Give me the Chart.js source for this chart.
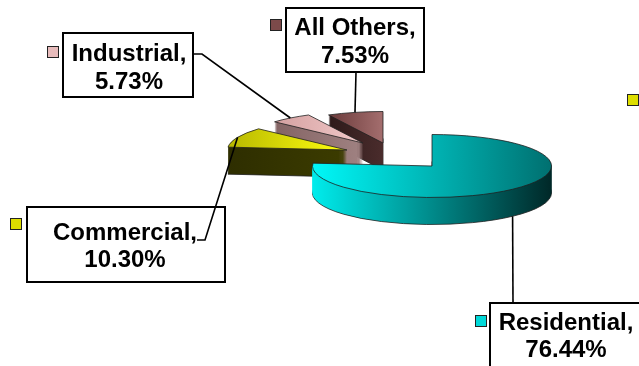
<!DOCTYPE html>
<html>
<head>
<meta charset="utf-8">
<script src="https://cdn.jsdelivr.net/npm/chart.js@4.4.0/dist/chart.umd.min.js"></script>
<style>
  html, body { margin: 0; padding: 0; background: #ffffff; }
  #wrap { width: 639px; height: 366px; position: relative; overflow: hidden; }
</style>
</head>
<body>
<div id="wrap"><canvas id="pie-chart-canvas"></canvas></div>
<script>
// values
const categories = ['Residential', 'Commercial', 'Industrial', 'All Others']
const shares = [76.44, 10.30, 5.73, 7.53]

// colours: legend key, top face gradient, side face gradient
const keyColors = ['#00d8d8', '#dede00', '#e8bcbc', '#7c4a4a']
const topColors = [['#00f8f8', '#007070'], ['#b8b800', '#ffff10'], ['#d4a0a0', '#f2caca'], ['#6a3a3a', '#a46e6e']]
const sideColors = [['#00ecec', '#002828'], ['#2e2e00', '#3c3c00'], ['#846464', '#a08282'], ['#2e1a1a', '#4a2c2c']]

// fake 3d: flattened ellipse, depth and explode shift (screen px) per slice
const pie = { cx: 432, cy: 166, rx: 119.5, ry: 31.5, depth: 27, edge: '#202020', edgeWidth: 0.8 }
const explode = [[0, 0], [-85, -16], [-69, -23], [-49, -23]]
const drawOrder = [3, 2, 1, 0] // back to front

// callout layout
const calloutBoxes = [
  { x: 490, y: 303, w: 154, h: 64, tx: 566, base: [330, 357] },
  { x: 27, y: 207, w: 198, h: 75, tx: 125, base: [240, 267] },
  { x: 63, y: 33, w: 130, h: 64, tx: 129, base: [61, 89] },
  { x: 286, y: 8, w: 138, h: 64, tx: 355, base: [35, 63] }
]
const keySquares = [[475, 315], [10, 218], [47, 46], [270, 19]]
const leaderEnds = [[[513, 303]], [[205, 240], [197, 240]], [[202, 54], [193, 54]], [[356, 72]]]
const strayKey = { x: 627, y: 94, color: keyColors[1] }

function flatStroke () {
  // keep line width even under the squashed transform
  this.save()
  this.setTransform(1, 0, 0, 1, 0, 0)
  CanvasRenderingContext2D.prototype.stroke.call(this)
  this.restore()
}

function sliceGradient (ctx, arc, colors) {
  const r = arc.outerRadius
  let lo = 0
  let hi = 0
  for (let s = 0; s <= 32; s++) {
    const a = arc.startAngle + (arc.endAngle - arc.startAngle) * s / 32
    lo = Math.min(lo, Math.cos(a))
    hi = Math.max(hi, Math.cos(a))
  }
  const g = ctx.createLinearGradient(arc.x + lo * r, 0, arc.x + hi * r, 0)
  g.addColorStop(0, colors[0])
  g.addColorStop(1, colors[1])
  return g
}

function paintArc (ctx, arc, i, lift, fill, outlined) {
  const r = arc.outerRadius
  const [dx, dy] = explode[i]
  ctx.save()
  ctx.translate(pie.cx + dx, pie.cy + dy + lift)
  ctx.scale(pie.rx / r, pie.ry / r)
  ctx.translate(-arc.x, -arc.y)
  const saved = arc.options
  arc.options = Object.assign({}, saved, {
    backgroundColor: fill,
    borderColor: pie.edge,
    borderWidth: outlined ? pie.edgeWidth : 0,
    offset: 0,
    spacing: 0
  })
  ctx.stroke = flatStroke
  arc.draw(ctx)
  delete ctx.stroke
  arc.options = saved
  ctx.restore()
}

function anchorOf (arc, i) {
  const a = (arc.startAngle + arc.endAngle) / 2
  const [dx, dy] = explode[i]
  const front = Math.sin(a) > 0 ? pie.depth : 0
  return [pie.cx + dx + Math.cos(a) * pie.rx, pie.cy + dy + Math.sin(a) * pie.ry + front]
}

const pie3d = {
  id: 'pie3d',
  beforeDatasetsDraw (chart) {
    const ctx = chart.ctx
    const arcs = chart.getDatasetMeta(0).data
    drawOrder.forEach(i => {
      const arc = arcs[i]
      const side = sliceGradient(ctx, arc, sideColors[i])
      const top = sliceGradient(ctx, arc, topColors[i])
      for (let k = pie.depth; k >= 1; k--) {
        paintArc(ctx, arc, i, k, side, k === pie.depth)
      }
      paintArc(ctx, arc, i, 0, top, true)
    })
    return false
  }
}

const callouts = {
  id: 'callouts',
  afterDraw (chart) {
    const ctx = chart.ctx
    const arcs = chart.getDatasetMeta(0).data
    ctx.save()
    // boxes
    calloutBoxes.forEach(b => {
      ctx.fillStyle = '#ffffff'
      ctx.fillRect(b.x, b.y, b.w, b.h)
      ctx.lineWidth = 2
      ctx.strokeStyle = '#000000'
      ctx.strokeRect(b.x, b.y, b.w, b.h)
    })
    // leader lines
    ctx.lineWidth = 1.6
    ctx.strokeStyle = '#000000'
    arcs.forEach((arc, i) => {
      const [ax, ay] = anchorOf(arc, i)
      ctx.beginPath()
      ctx.moveTo(ax, ay)
      leaderEnds[i].forEach(p => ctx.lineTo(p[0], p[1]))
      ctx.stroke()
    })
    // legend keys
    const square = (x, y, color) => {
      ctx.fillStyle = color
      ctx.fillRect(x, y, 11, 11)
      ctx.lineWidth = 1
      ctx.strokeStyle = '#222222'
      ctx.strokeRect(x + 0.5, y + 0.5, 11, 11)
    }
    keySquares.forEach((k, i) => square(k[0], k[1], keyColors[i]))
    square(strayKey.x, strayKey.y, strayKey.color)
    // texts
    ctx.fillStyle = '#000000'
    ctx.font = 'bold 24px "Liberation Sans", Arial, sans-serif'
    ctx.textAlign = 'center'
    ctx.textBaseline = 'alphabetic'
    calloutBoxes.forEach((b, i) => {
      ctx.fillText(categories[i] + ',', b.tx, b.base[0])
      ctx.fillText(shares[i].toFixed(2) + '%', b.tx, b.base[1])
    })
    ctx.restore()
  }
}

const chart = new Chart(document.getElementById('pie-chart-canvas').getContext('2d'), {
  type: 'pie',
  data: {
    labels: categories,
    datasets: [{
      data: shares,
      backgroundColor: keyColors,
      borderWidth: 0,
      hoverOffset: 0
    }]
  },
  options: {
    responsive: true,
    maintainAspectRatio: false,
    animation: false,
    events: [],
    plugins: {
      legend: { display: false },
      tooltip: { enabled: false }
    }
  },
  plugins: [pie3d, callouts]
})
</script>
</body>
</html>
